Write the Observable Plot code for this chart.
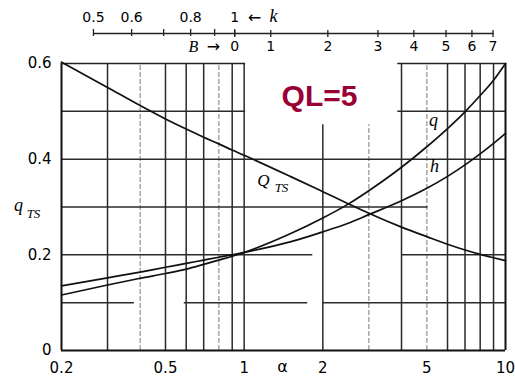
<!DOCTYPE html>
<html><head><meta charset="utf-8">
<script src="https://cdn.jsdelivr.net/npm/d3@7"></script>
<script src="https://cdn.jsdelivr.net/npm/@observablehq/plot@0.6"></script>
<style>body{margin:0;background:#fff} svg{display:block}</style>
</head><body><div id="chart"></div>
<script>
// ---- data ----
const alpha   = [0.2, 0.3, 0.4, 0.5, 0.6, 0.7, 0.8, 0.9, 1, 1.5, 2, 2.5, 3, 4, 5, 6, 7, 8, 9, 10];
const qVals   = [0.116,0.137,0.151,0.161,0.170,0.180,0.189,0.197,0.205,0.244,0.277,0.306,0.334,0.383,0.426,0.464,0.499,0.533,0.565,0.600];
const hVals   = [0.135,0.152,0.164,0.174,0.182,0.189,0.195,0.200,0.205,0.227,0.248,0.266,0.284,0.313,0.339,0.364,0.388,0.411,0.433,0.454];
const qtsVals = [0.603,0.550,0.512,0.484,0.463,0.446,0.432,0.419,0.408,0.364,0.332,0.307,0.287,0.258,0.238,0.222,0.210,0.201,0.194,0.188];

const xTickValues = [0.2, 0.5, 1, 2, 5, 10];
const yTickValues = [0, 0.2, 0.4, 0.6];
const gridXDark  = [0.3, 0.5, 0.6, 0.7, 0.9, 1, 2, 4, 6, 7, 8, 9];
const gridXLight = [0.4, 0.8, 3, 5];
const hGridY  = [0.5, 0.4, 0.3, 0.2, 0.2, 0.1, 0.1, 0.1];
const hGridX1 = [0.2, 0.2, 0.2, 0.2, 4.0, 0.2, 0.59, 2.0];
const hGridX2 = [10, 10, 5.05, 1.83, 10, 0.38, 1.75, 10];

// top auxiliary scales (k and B), positioned on the α axis
const kLabels = ["0.5", "0.6", "", "0.8", "", "1"];
const kAlpha  = [0.265, 0.371, 0.492, 0.624, 0.771, 0.92];
const bLabels = ["0", "1", "2", "3", "4", "5", "6", "7"];
const bAlpha  = [0.92, 1.264, 2.09, 3.25, 4.46, 5.92, 7.44, 8.96];

// ---- layout helpers ----
const W = 515, H = 378, ML = 61, MR = 10, MT = 63, MB = 28;
const Y0 = H - MB, YTOP = MT;
const yPx = p => 0.6 * (Y0 - p) / (Y0 - YTOP);          // pixel row -> data y
const xPx = p => Math.pow(10, Math.log10(0.2) + (p - ML) / (W - MR - ML) * Math.log10(50)); // pixel col -> α

const series = [
  {name: "q", vals: qVals},
  {name: "h", vals: hVals},
  {name: "QTS", vals: qtsVals}
];
const lineData = series.flatMap(s => alpha.map((a, i) => ({a, v: s.vals[i], s: s.name})));
const hGrid = hGridY.map((y, i) => ({y, x1: hGridX1[i], x2: hGridX2[i]}));
const kData = kAlpha.map((a, i) => ({a, t: kLabels[i]}));
const bData = bAlpha.map((a, i) => ({a, t: bLabels[i]}));

const sans = "DejaVu Sans";
const serif = "Liberation Serif";

const chart = Plot.plot({
  width: W, height: H,
  marginLeft: ML, marginRight: MR, marginTop: MT, marginBottom: MB,
  style: {background: "#fff", fontFamily: sans},
  x: {type: "log", domain: [0.2, 10], range: [ML, W - MR]},
  y: {domain: [0, 0.6], range: [Y0, YTOP]},
  marks: [
    // grid
    Plot.ruleX(gridXLight, {y1: 0, y2: 0.6, stroke: "#999", strokeWidth: 1.3, strokeDasharray: "5,2"}),
    Plot.ruleX(gridXDark, {y1: 0, y2: 0.6, stroke: "#2a2a2a", strokeWidth: 1.5}),
    Plot.ruleY(hGrid, {y: "y", x1: "x1", x2: "x2", stroke: "#2a2a2a", strokeWidth: 1.5}),
    // frame
    Plot.ruleX([0.2, 10], {y1: 0, y2: 0.6, stroke: "#111", strokeWidth: 2}),
    Plot.ruleY([0], {x1: 0.2, x2: 10, stroke: "#111", strokeWidth: 2}),
    Plot.ruleY([0.6], {x1: 0.2, x2: 10, stroke: "#222", strokeWidth: 1.6}),
    // white label box
    Plot.rect([0], {x1: 1.013, x2: 3.87, y1: 0.472, y2: 0.605, fill: "#fff"}),
    // curves
    Plot.line(lineData, {x: "a", y: "v", z: "s", stroke: "#111", strokeWidth: 1.7, curve: "monotone-x"}),
    // axes
    Plot.axisX({ticks: xTickValues, tickSize: 0, tickPadding: 12, fontSize: 15, tickFormat: d => String(d), label: null}),
    Plot.axisY({ticks: yTickValues, tickSize: 0, tickPadding: 10, fontSize: 15, tickFormat: d => d === 0 ? "0" : String(d), label: null}),
    Plot.text(["α"], {x: xPx(282), y: yPx(366), text: d => d, fontSize: 16, fontFamily: sans, lineAnchor: "middle"}),
    // y label q_TS
    Plot.text(["q"], {x: xPx(18), y: yPx(205), text: d => d, fontSize: 18, fontFamily: serif, fontStyle: "italic", lineAnchor: "middle"}),
    Plot.text(["TS"], {x: xPx(33), y: yPx(213), text: d => d, fontSize: 13, fontFamily: serif, fontStyle: "italic", lineAnchor: "middle"}),
    // curve labels
    Plot.text(["q"], {x: xPx(433), y: yPx(120), text: d => d, fontSize: 18, fontFamily: serif, fontStyle: "italic", lineAnchor: "middle"}),
    Plot.text(["h"], {x: xPx(434), y: yPx(166), text: d => d, fontSize: 18, fontFamily: serif, fontStyle: "italic", lineAnchor: "middle"}),
    Plot.text(["Q"], {x: xPx(263), y: yPx(180), text: d => d, fontSize: 17, fontFamily: serif, fontStyle: "italic", lineAnchor: "middle"}),
    Plot.text(["TS"], {x: xPx(281), y: yPx(187), text: d => d, fontSize: 13, fontFamily: serif, fontStyle: "italic", lineAnchor: "middle"}),
    // QL=5
    Plot.text(["QL=5"], {x: xPx(319), y: yPx(96), text: d => d, fontSize: 30, fontWeight: "bold", fontFamily: "Liberation Sans", fill: "#990033", lineAnchor: "middle"}),
    // top auxiliary axis line
    Plot.ruleY([yPx(33)], {x1: kAlpha[0], x2: 9.04, stroke: "#222", strokeWidth: 1.6}),
    Plot.ruleX(kData, {x: "a", y1: yPx(29), y2: yPx(36), stroke: "#222", strokeWidth: 1.3}),
    Plot.ruleX(bData, {x: "a", y1: yPx(30), y2: yPx(37), stroke: "#222", strokeWidth: 1.3}),
    Plot.text(kData, {x: "a", y: yPx(17), text: "t", fontSize: 14, fontFamily: sans, lineAnchor: "middle"}),
    Plot.text(bData, {x: "a", y: yPx(46), text: "t", fontSize: 14, fontFamily: sans, lineAnchor: "middle"}),
    Plot.text(["←"], {x: xPx(254), y: yPx(17), text: d => d, fontSize: 16, fontFamily: sans, lineAnchor: "middle"}),
    Plot.text(["k"], {x: xPx(273), y: yPx(16), text: d => d, fontSize: 18, fontFamily: serif, fontStyle: "italic", lineAnchor: "middle"}),
    Plot.text(["B"], {x: xPx(193), y: yPx(46), text: d => d, fontSize: 16, fontFamily: serif, fontStyle: "italic", lineAnchor: "middle"}),
    Plot.text(["→"], {x: xPx(213), y: yPx(46), text: d => d, fontSize: 16, fontFamily: sans, lineAnchor: "middle"})
  ]
});
document.getElementById("chart").appendChild(chart);
</script>
</body></html>
